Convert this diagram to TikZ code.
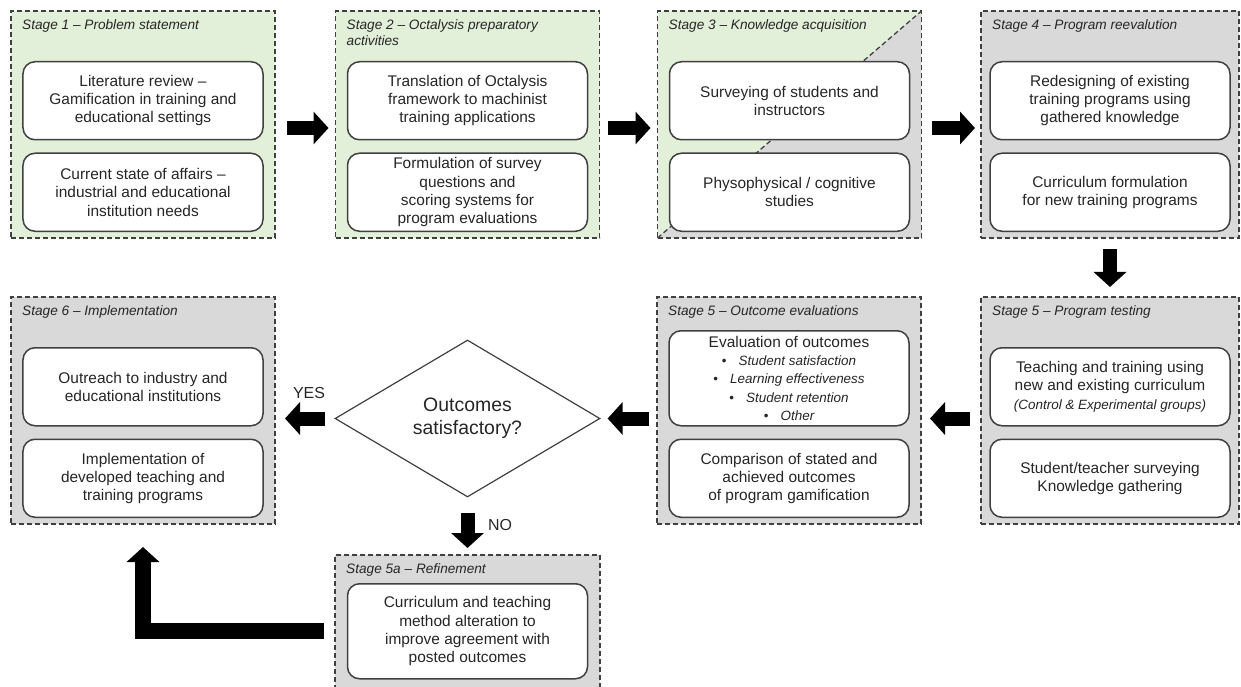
\documentclass[tikz,border=0pt]{standalone}
\usepackage{fontspec}
\setmainfont{Liberation Sans}
\usepackage{tikz}
\usetikzlibrary{arrows.meta, positioning, shapes.geometric, backgrounds}

\definecolor{stagegreen}{HTML}{E2EFD9}
\definecolor{stagegray}{HTML}{D9D9D9}
\definecolor{edgegray}{HTML}{404040}
\definecolor{inkgray}{HTML}{262626}

\newcommand{\bulitem}[1]{{\fontsize{13.5}{15.5}\selectfont\textbullet\hspace{0.9em}\itshape #1}}

\tikzset{
  stageline/.style={draw=edgegray, line width=1.3bp, dash pattern=on 5bp off 3bp},
  stagebox/.style={stageline, minimum width=264bp, minimum height=227bp,
                   inner sep=0pt, outer sep=0pt},
  stagetitle/.style={font=\fontsize{13.7}{16}\selectfont\itshape, text=inkgray,
                     align=left, inner sep=0pt},
  taskbox/.style={draw=edgegray, line width=1.5bp, rounded corners=12bp, fill=white,
                  minimum width=240bp, minimum height=78bp, align=center, inner sep=2bp,
                  text=inkgray, font=\fontsize{15.5}{18.3}\selectfont},
  decision/.style={draw=edgegray, line width=1.2bp, diamond, fill=white,
                   minimum width=265bp, minimum height=157bp, inner sep=0pt,
                   align=center, text=inkgray, font=\fontsize{19.5}{23}\selectfont},
  answer/.style={font=\fontsize{16}{19}\selectfont, text=inkgray, inner sep=0pt},
  bigarrow/.style={draw=black, line width=14bp, -{Triangle[width=32bp,length=15bp]}}
}

\begin{document}
\begin{tikzpicture}[x=1bp, y=-1bp]
  \useasboundingbox (0,0) rectangle (1241,687);

  % top row
  \node[stagebox, fill=stagegreen] (s1) at (143,124.5) {};
  \node[stagetitle, below right=8bp and 11bp of s1.north west] (s1title)
    {Stage 1 – Problem statement};
  \node[taskbox, below=50bp of s1.north] (s1a)
    {Literature review –\\Gamification in training and\\educational settings};
  \node[taskbox, below=12bp of s1a] (s1b)
    {Current state of affairs –\\industrial and educational\\institution needs};

  \node[stagebox, fill=stagegreen] (s2) at (467.5,124.5) {};
  \node[stagetitle, below right=8bp and 11bp of s2.north west] (s2title)
    {Stage 2 – Octalysis preparatory\\activities};
  \node[taskbox, below=50bp of s2.north] (s2a)
    {Translation of Octalysis\\framework to machinist\\training applications};
  \node[taskbox, below=12bp of s2a] (s2b)
    {Formulation of survey\\questions and\\scoring systems for\\program evaluations};

  \node[stagebox] (s3) at (789.5,124.5) {};
  \begin{scope}[on background layer]
    \fill[stagegreen] (s3.north west) -- (s3.north east) -- (s3.south west) -- cycle;
    \fill[stagegray] (s3.north east) -- (s3.south east) -- (s3.south west) -- cycle;
  \end{scope}
  \draw[stageline] (s3.south west) -- (s3.north east);
  \node[stagetitle, below right=8bp and 11bp of s3.north west] (s3title)
    {Stage 3 – Knowledge acquisition};
  \node[taskbox, below=50bp of s3.north] (s3a)
    {Surveying of students and\\instructors};
  \node[taskbox, below=12bp of s3a] (s3b)
    {Physophysical / cognitive\\studies};

  \node[stagebox, fill=stagegray, minimum width=258bp] (s4) at (1110,124.5) {};
  \node[stagetitle, below right=8bp and 11bp of s4.north west] (s4title)
    {Stage 4 – Program reevalution};
  \node[taskbox, below=50bp of s4.north] (s4a)
    {Redesigning of existing\\training programs using\\gathered knowledge};
  \node[taskbox, below=12bp of s4a] (s4b)
    {Curriculum formulation\\for new training programs};

  % lower row
  \node[stagebox, fill=stagegray, minimum width=258bp] (s5t) at (1110,410.5) {};
  \node[stagetitle, below right=8bp and 11bp of s5t.north west] (s5ttitle)
    {Stage 5 – Program testing};
  \node[taskbox, below=50bp of s5t.north] (s5ta)
    {Teaching and training using\\new and existing curriculum\\
     {\fontsize{13.5}{15.5}\selectfont\itshape (Control \& Experimental groups)}};
  \node[taskbox, below=12bp of s5ta] (s5tb)
    {Student/teacher surveying\\Knowledge gathering};

  \node[stagebox, fill=stagegray] (s5o) at (789,410.5) {};
  \node[stagetitle, below right=8bp and 11bp of s5o.north west] (s5otitle)
    {Stage 5 – Outcome evaluations};
  \node[taskbox, minimum height=95bp, below=33bp of s5o.north] (s5oa)
    {Evaluation of outcomes\\\bulitem{Student satisfaction}\\\bulitem{Learning effectiveness}\\
     \bulitem{Student retention}\\\bulitem{Other}};
  \node[taskbox, below=12bp of s5oa] (s5ob)
    {Comparison of stated and\\achieved outcomes\\of program gamification};

  \node[decision] (dec) at (467.5,418.5) {Outcomes\\satisfactory?};

  \node[stagebox, fill=stagegray] (s6) at (143,410.5) {};
  \node[stagetitle, below right=8bp and 11bp of s6.north west] (s6title)
    {Stage 6 – Implementation};
  \node[taskbox, below=50bp of s6.north] (s6a)
    {Outreach to industry and\\educational institutions};
  \node[taskbox, below=12bp of s6a] (s6b)
    {Implementation of\\developed teaching and\\training programs};

  \node[stagebox, fill=stagegray, minimum width=265bp, minimum height=140bp] (s5a)
    at (467.5,625) {};
  \node[stagetitle, below right=8bp and 11bp of s5a.north west] (s5atitle)
    {Stage 5a – Refinement};
  \node[taskbox, minimum height=95bp, below=28bp of s5a.north] (s5aa)
    {Curriculum and teaching\\method alteration to\\improve agreement with\\posted outcomes};

  \node[answer] (yes) at (309,393) {YES};
  \node[answer] (no) at (500,525) {NO};

  % block arrows
  \draw[bigarrow, shorten <=12bp, shorten >=7bp]
    ([yshift=-3.5bp]s1.east) -- ([yshift=-3.5bp]s2.west);
  \draw[bigarrow, shorten <=8bp, shorten >=7bp]
    ([yshift=-3.5bp]s2.east) -- ([yshift=-3.5bp]s3.west);
  \draw[bigarrow, shorten <=10bp, shorten >=6bp]
    ([yshift=-3.5bp]s3.east) -- ([yshift=-3.5bp]s4.west);
  \draw[bigarrow, shorten <=11bp, shorten >=10bp] (s4.south) -- (s5t.north);
  \draw[bigarrow, shorten <=11bp, shorten >=9bp] (s5t.west |- dec) -- (s5o.east |- dec);
  \draw[bigarrow, shorten <=8bp, shorten >=7bp] (s5o.west |- dec) -- (dec.east);
  \draw[bigarrow, shorten <=9bp, shorten >=10bp] (dec.west) -- (s6.east |- dec);
  \draw[bigarrow, shorten <=15bp, shorten >=7bp] (dec.south) -- (s5a.north);
  \draw[bigarrow, line width=16bp, shorten <=11bp, shorten >=23bp]
    (s5a.west |- s5aa) -| (s6.south);
\end{tikzpicture}
\end{document}
